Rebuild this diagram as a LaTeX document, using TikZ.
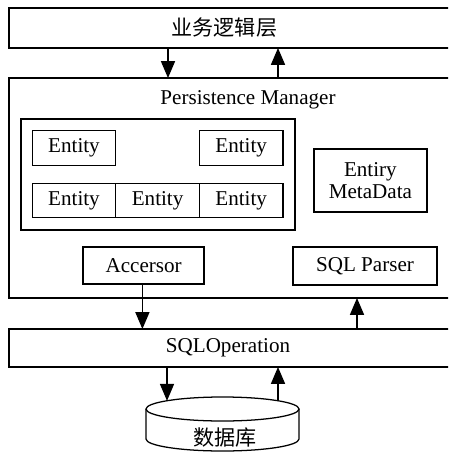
\documentclass[tikz,border=0pt]{standalone}
\usepackage{fontspec}
\setmainfont{Liberation Serif}
\newfontfamily\cjk{Noto Sans CJK SC}
\usetikzlibrary{arrows.meta,positioning}

\begin{document}
\begin{tikzpicture}[box/.style={rectangle, draw=black, outer sep=0pt, inner sep=0pt},
  ent/.style={box, minimum width=2.09cm, minimum height=0.86cm},
  layer/.style={box, minimum width=11.6cm},
  font=\fontsize{15}{16}\selectfont, line width=0.9pt,
  >={Triangle[length=12pt,width=10pt]}]
  \useasboundingbox (0,0) rectangle (11.2,-11.3);
  \clip (0,0) rectangle (11.2,-11.3);

  \node[layer, minimum height=1cm] (biz) at (6.025,-0.7) {};
  \node (biztext) at (5.61,-0.7) {\cjk 业务逻辑层};

  \node[layer, minimum height=5.5cm] (pm) at (6.025,-4.7) {};
  \node (pmtext) at (6.2,-2.5) {Persistence Manager};

  \coordinate (a1) at (4.2,0);
  \coordinate (a2) at (6.95,0);
  \path[->] (biz.south -| a1) edge (pm.north -| a1);
  \path[->] (pm.north -| a2) edge (biz.south -| a2);

  \node[box, minimum width=6.85cm, minimum height=2.775cm] (group) at (3.95,-4.3625) {};
  \node[ent] (e1) at (1.85,-3.7) {Entity};
  \node[ent] (e2) at (6.03,-3.7) {Entity};
  \node[ent] (e3) at (1.85,-5.01) {Entity};
  \node[ent, right=0pt of e3] (e4) {Entity};
  \node[ent, right=0pt of e4] (e5) {Entity};

  \node[box, minimum width=2.825cm, minimum height=1.575cm, align=center] (meta) at (9.26,-4.51) {Entiry\\MetaData};

  \node[box, minimum width=3.025cm, minimum height=0.925cm] (acc) at (3.59,-6.64) {Accersor};
  \node[box, minimum width=3.6cm, minimum height=0.95cm] (parser) at (9.125,-6.65) {SQL Parser};

  \node[layer, minimum height=0.95cm] (sqlop) at (6.025,-8.7) {};
  \node (sqltext) at (5.7,-8.7) {SQLOperation};

  \coordinate (a3) at (3.56,0);
  \coordinate (a4) at (8.925,0);
  \path[->] (acc.south -| a3) edge (sqlop.north -| a3);
  \path[->] (sqlop.north -| a4) edge (pm.south -| a4);

  % database
  \draw (3.65,-10.225) -- (3.65,-10.975) arc[start angle=180, end angle=360, x radius=1.9125, y radius=0.3] -- (7.475,-10.225);
  \draw (5.5625,-10.225) ellipse [x radius=1.9125, y radius=0.3];
  \node (db) at (5.62,-10.95) {\cjk 数据库};

  \coordinate (dbin) at (4.175,-10.02);
  \coordinate (dbout) at (6.95,-10.02);
  \path[->] (sqlop.south -| dbin) edge (dbin);
  \path[->] (dbout) edge (sqlop.south -| dbout);
\end{tikzpicture}
\end{document}
